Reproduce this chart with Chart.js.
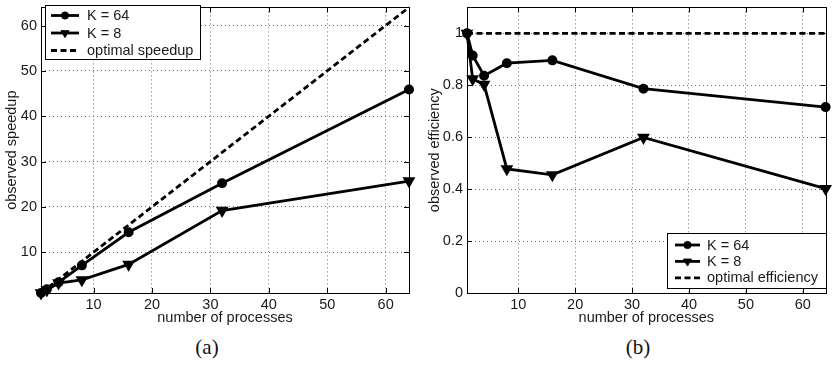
<!DOCTYPE html>
<html>
<head>
<meta charset="utf-8">
<script src="https://cdn.jsdelivr.net/npm/chart.js@4.4.0/dist/chart.umd.min.js"></script>
<style>
  body { margin: 0; background: #fff; width: 833px; height: 370px; position: relative; overflow: hidden; }
  canvas { position: absolute; top: 0; }
  #ca { left: 0; }
  #cb { left: 420px; }
  .cap { position: absolute; top: 335px; line-height: 24px; font-family: 'Liberation Serif', 'DejaVu Serif', serif; font-size: 21px; color: #111; transform: translateX(-50%); }
</style>
</head>
<body>
<canvas id="ca" width="420" height="330"></canvas>
<canvas id="cb" width="413" height="330"></canvas>
<div class="cap" style="left:207px">(a)</div>
<div class="cap" style="left:638px">(b)</div>
<script>
// number of processes
const procs = [1, 2, 4, 8, 16, 32, 64];

// observed speedup
const speedupK64 = [1, 1.83, 3.35, 7.1, 14.4, 25.2, 45.9];
const speedupK8 = [1, 1.65, 3.2, 3.9, 7.3, 19.2, 25.7];
const speedupOpt = [1, 2, 4, 8, 16, 32, 64];

// observed efficiency
const effK64 = [1, 0.915, 0.837, 0.885, 0.896, 0.787, 0.716];
const effK8 = [1, 0.824, 0.803, 0.478, 0.455, 0.599, 0.402];
const effOpt = [1, 1, 1, 1, 1, 1, 1];

// tick labels
const xTicks = [10, 20, 30, 40, 50, 60];
const speedupTicks = [10, 20, 30, 40, 50, 60];
const effTicks = [0, 0.2, 0.4, 0.6, 0.8, 1];

Chart.defaults.font.family = "'Liberation Sans', Arial, sans-serif";
Chart.defaults.font.size = 14.5;
Chart.defaults.color = '#1a1a1a';

const pts = arr => procs.map((p, i) => ({ x: p, y: arr[i] }));

function series(k64, k8, opt, optLabel) {
  return [
    { label: 'K = 64', data: pts(k64), borderColor: '#000', backgroundColor: '#000', borderWidth: 2.8,
      pointStyle: 'circle', pointRadius: 3.6, pointBackgroundColor: '#000', pointBorderColor: '#000', clip: false },
    { label: 'K = 8', data: pts(k8), borderColor: '#000', backgroundColor: '#000', borderWidth: 2.8,
      pointStyle: 'triangle', pointRotation: 180, pointRadius: 4.6, pointBackgroundColor: '#000', pointBorderColor: '#000', clip: false },
    { label: optLabel, data: pts(opt), borderColor: '#000', borderWidth: 2.8, borderDash: [6, 3.5],
      pointRadius: 0, clip: false }
  ];
}

// box round the plot, inward ticks, and the legend
const frame = {
  id: 'frame',
  beforeDatasetsDraw(chart) {
    const { ctx, chartArea: a, scales } = chart;
    ctx.save();
    ctx.strokeStyle = '#000';
    ctx.lineWidth = 1;
    ctx.strokeRect(Math.round(a.left) + 0.5, Math.round(a.top) + 0.5, Math.round(a.right - a.left), Math.round(a.bottom - a.top));
    ctx.beginPath();
    scales.x.ticks.forEach(t => {
      const px = Math.round(scales.x.getPixelForValue(t.value)) + 0.5;
      ctx.moveTo(px, a.bottom); ctx.lineTo(px, a.bottom - 5);
      ctx.moveTo(px, a.top); ctx.lineTo(px, a.top + 5);
    });
    scales.y.ticks.forEach(t => {
      const py = Math.round(scales.y.getPixelForValue(t.value)) + 0.5;
      ctx.moveTo(a.left, py); ctx.lineTo(a.left + 5, py);
      ctx.moveTo(a.right, py); ctx.lineTo(a.right - 5, py);
    });
    ctx.stroke();
    ctx.restore();
  },
  afterDraw(chart, args, o) {
    const ctx = chart.ctx;
    ctx.save();
    ctx.fillStyle = '#fff';
    ctx.fillRect(o.x, o.y, o.w, o.h);
    ctx.strokeStyle = '#000';
    ctx.lineWidth = 1;
    ctx.strokeRect(o.x + 0.5, o.y + 0.5, o.w, o.h);
    chart.data.datasets.forEach((ds, i) => {
      const y = o.row0 + i * o.rowH;
      ctx.strokeStyle = '#000';
      ctx.fillStyle = '#000';
      ctx.lineWidth = ds.borderWidth;
      ctx.setLineDash(ds.borderDash || []);
      ctx.beginPath();
      ctx.moveTo(o.l1, y); ctx.lineTo(o.l2, y);
      ctx.stroke();
      ctx.setLineDash([]);
      if (ds.pointRadius > 0) {
        ctx.lineWidth = 1;
        Chart.helpers.drawPoint(ctx, { pointStyle: ds.pointStyle, rotation: ds.pointRotation || 0, radius: ds.pointRadius, borderWidth: 1 }, (o.l1 + o.l2) / 2, y);
      }
      ctx.fillStyle = '#1a1a1a';
      ctx.font = "14.5px 'Liberation Sans', Arial, sans-serif";
      ctx.textBaseline = 'middle';
      ctx.fillText(ds.label, o.tx, y + 0.5);
    });
    ctx.restore();
  }
};

function scalesFor(yTicks, yMin, yMax, yTitle, yWidth, titlePad) {
  return {
    x: {
      type: 'linear', min: 1, max: 64,
      afterBuildTicks: s => { s.ticks = xTicks.map(v => ({ value: v })); },
      afterFit: s => { s.height = 37; s.paddingLeft = 0; s.paddingRight = 0; },
      grid: { color: '#707070', lineWidth: 1, drawTicks: false },
      border: { display: false, dash: [1, 3] },
      ticks: { padding: 3, autoSkip: false, maxRotation: 0 },
      title: { display: true, text: 'number of processes', padding: { top: 0, bottom: 3.5 } }
    },
    y: {
      type: 'linear', min: yMin, max: yMax,
      afterBuildTicks: s => { s.ticks = yTicks.map(v => ({ value: v })); },
      afterFit: s => { s.width = yWidth; s.paddingTop = 0; s.paddingBottom = 0; },
      grid: { color: '#707070', lineWidth: 1, drawTicks: false },
      border: { display: false, dash: [1, 3] },
      ticks: { padding: 4, autoSkip: false, callback: v => String(+v.toFixed(1)) },
      title: { display: true, text: yTitle, padding: { top: titlePad, bottom: 0 } }
    }
  };
}

new Chart(document.getElementById('ca'), {
  type: 'line',
  data: { datasets: series(speedupK64, speedupK8, speedupOpt, 'optimal speedup') },
  options: {
    responsive: false, animation: false, devicePixelRatio: 1,
    layout: { padding: { left: 0, top: 1, right: 11, bottom: 0 } },
    scales: scalesFor(speedupTicks, 1, 64, 'observed speedup', 41, 3),
    plugins: {
      legend: { display: false }, tooltip: { enabled: false },
      frame: { x: 45, y: 5, w: 155, h: 54, row0: 15.5, rowH: 17.5, l1: 51, l2: 79, tx: 87 }
    }
  },
  plugins: [frame]
});

new Chart(document.getElementById('cb'), {
  type: 'line',
  data: { datasets: series(effK64, effK8, effOpt, 'optimal efficiency') },
  options: {
    responsive: false, animation: false, devicePixelRatio: 1,
    layout: { padding: { left: 0, top: 4, right: 1, bottom: 0 } },
    scales: scalesFor(effTicks, 0, 1.1, 'observed efficiency', 47, 6.5),
    plugins: {
      legend: { display: false }, tooltip: { enabled: false },
      frame: { x: 247, y: 233, w: 159, h: 55, row0: 245, rowH: 16.4, l1: 255, l2: 280, tx: 287 }
    }
  },
  plugins: [frame]
});
</script>
</body>
</html>
